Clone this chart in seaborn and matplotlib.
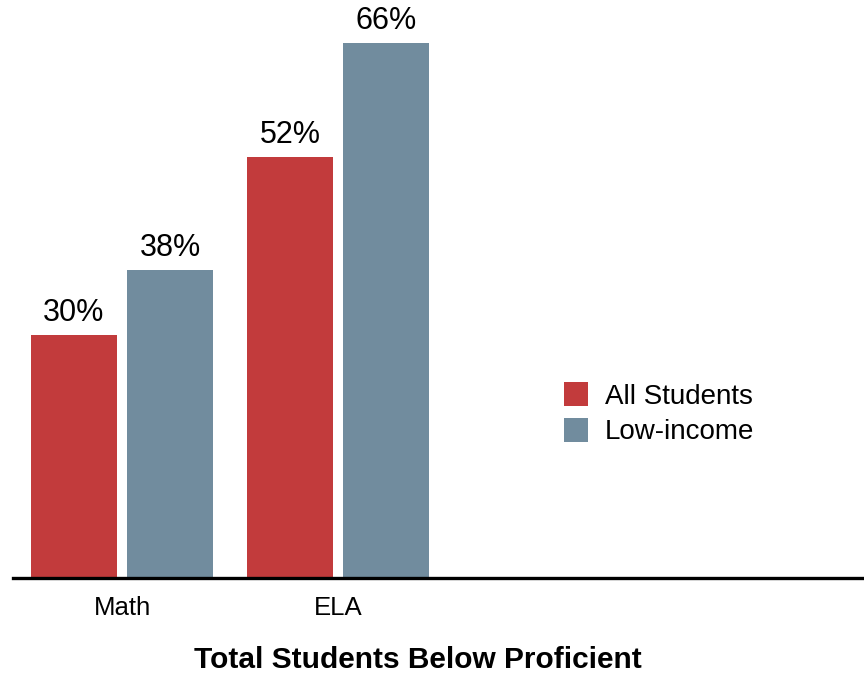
import matplotlib
matplotlib.use("Agg")
import matplotlib.pyplot as plt
import seaborn as sns
import pandas as pd

subjects = ["Math", "ELA"]
groups = ["All Students", "Low-income"]
all_students = [30, 52]
low_income = [38, 66]
colors = ["#C23B3C", "#718C9E"]
title = "Total Students Below Proficient"

df = pd.DataFrame({
    "subject": subjects * 2,
    "group": [groups[0]] * 2 + [groups[1]] * 2,
    "value": all_students + low_income,
})

sns.set_theme(style="white")
plt.rcParams["font.family"] = ["Liberation Sans", "DejaVu Sans"]
plt.rcParams["text.color"] = "black"

W, H = 864, 673
fig = plt.figure(figsize=(W / 100, H / 100), dpi=100)
ax = fig.add_axes([13 / W, (H - 578) / H, 851 / W, 578 / H])

sns.barplot(data=df, x="subject", y="value", hue="group", order=subjects,
            hue_order=groups, palette=colors, width=0.89, gap=0.1,
            saturation=1, linewidth=0, edgecolor="none", ax=ax, legend=True)

for cont in ax.containers:
    ax.bar_label(cont, labels=[f"{int(v)}%" for v in cont.datavalues],
                 padding=5, fontsize=22, color="black")

ax.set_ylim(0, 578 / 8.1)
ax.set_xlim(-0.505, -0.505 + 851 / 216)
ax.set_xlabel("")
ax.set_ylabel("")
ax.set_yticks([])
for s in ["top", "right", "left"]:
    ax.spines[s].set_visible(False)
ax.spines["bottom"].set_color("black")
ax.spines["bottom"].set_linewidth(2.4)
ax.tick_params(axis="x", length=0, pad=13, labelsize=18.5, colors="black")

handles, labels = ax.get_legend_handles_labels()
ax.legend(handles, labels, loc="upper left",
          bbox_to_anchor=(564 / W, 1 - 382 / H), bbox_transform=fig.transFigure,
          frameon=False, fontsize=20, handlelength=0.88, handleheight=0.95,
          handletextpad=0.6, labelspacing=0.3, borderpad=0, borderaxespad=0,
          labelcolor="black")

fig.text(418 / W, 5 / H, title, ha="center", va="baseline",
         fontsize=21.5, fontweight="heavy", color="black")

fig.savefig("out.png", dpi=100)
